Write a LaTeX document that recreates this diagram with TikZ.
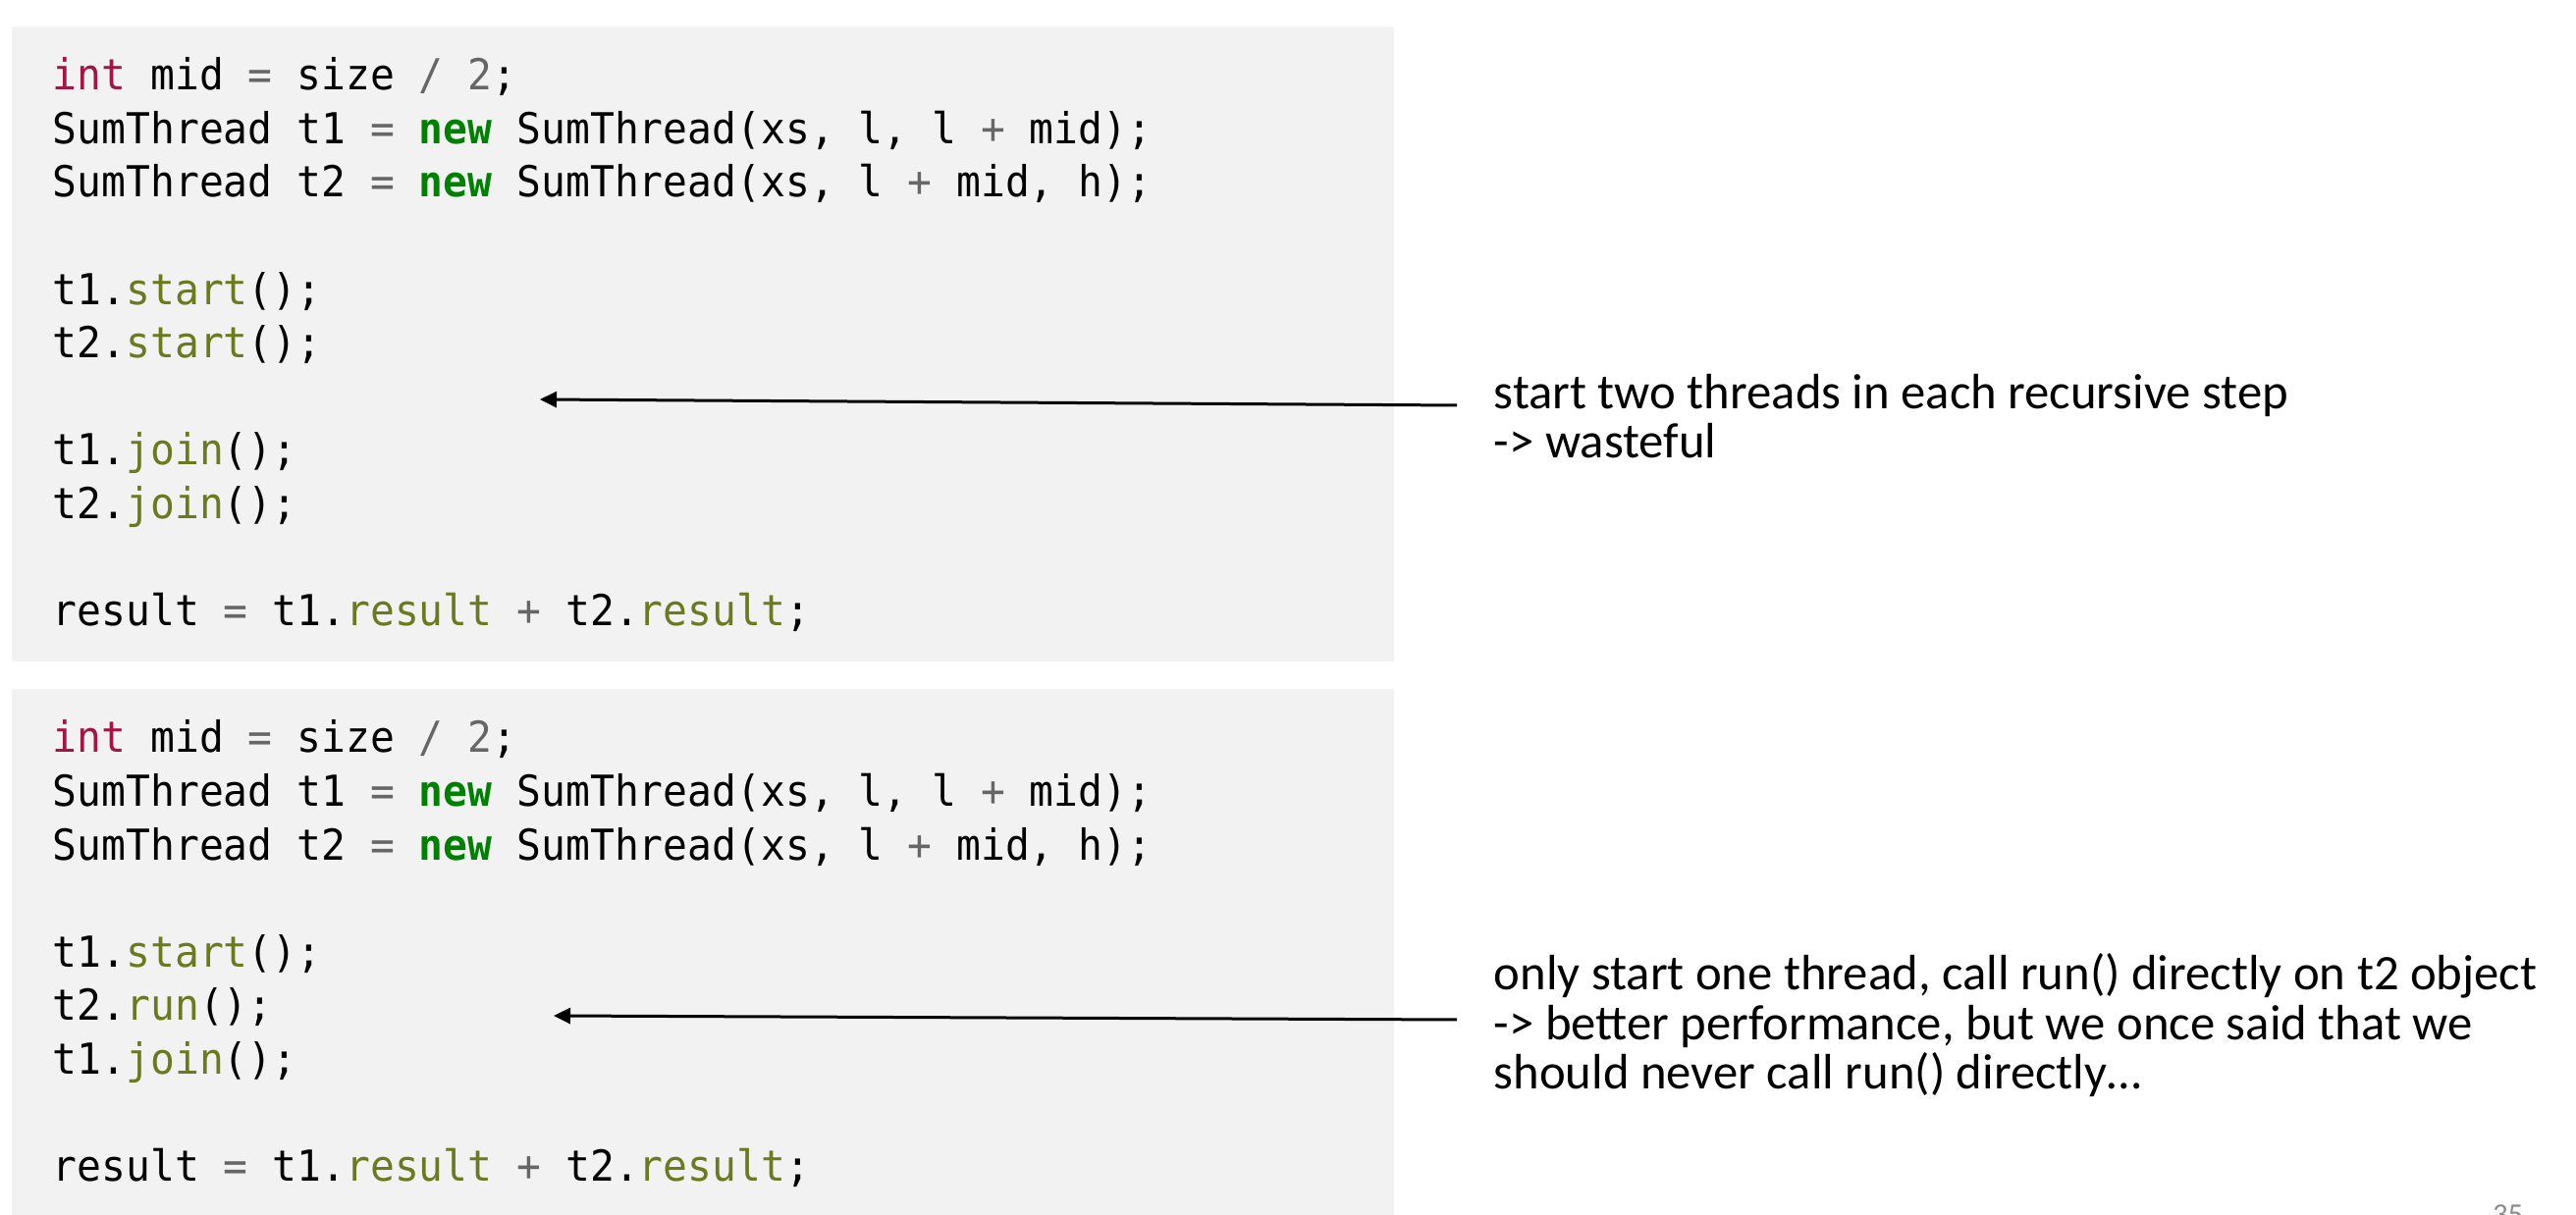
\documentclass[tikz,border=0pt]{standalone}
\usepackage{fontspec}
\setmainfont{Carlito}
\newfontfamily\codefont[FakeStretch=0.95]{DejaVu Sans Mono}
\usetikzlibrary{arrows.meta}
\definecolor{codebg}{HTML}{F2F2F2}
\definecolor{kwred}{HTML}{A31545}
\definecolor{kwgreen}{HTML}{008000}
\definecolor{opgray}{HTML}{666666}
\definecolor{fnolive}{HTML}{6B7A1F}
\definecolor{pagegray}{HTML}{8C8C8C}
\newcommand\ckw[1]{\textcolor{kwred}{#1}}
\newcommand\cnew[1]{\textcolor{kwgreen}{\bfseries #1}}
\newcommand\cop[1]{\textcolor{opgray}{#1}}
\newcommand\cfn[1]{\textcolor{fnolive}{#1}}
\tikzset{
  codeline/.style={anchor=base west, inner sep=0pt, font=\codefont\fontsize{10.875pt}{13.65pt}\selectfont},
  notetext/.style={anchor=base west, inner sep=0pt, align=left, font=\fontsize{12.675pt}{12.675pt}\selectfont},
  codebox/.style={fill=codebg, draw=none},
  notearrow/.style={-{Triangle[length=4.25pt,width=4pt]}, line width=0.75pt, black},
}
\begin{document}
\begin{tikzpicture}[x=0.25pt,y=-0.25pt]
\useasboundingbox (0,0) rectangle (2624,1238);
\clip (0,0) rectangle (2624,1238);
\fill[white] (0,0) rectangle (2624,1238);
% code boxes
\fill[codebox] (12,27) rectangle (1420,674);
\fill[codebox] (12,702) rectangle (1420,1238);
% first block
\node[codeline] (a1) at (53,91.7) {\ckw{int} mid \cop{=} size \cop{/} \cop{2};};
\node[codeline] (a2) at (53,146.3) {SumThread t1 \cop{=} \cnew{new} SumThread(xs, l, l \cop{+} mid);};
\node[codeline] (a3) at (53,200.9) {SumThread t2 \cop{=} \cnew{new} SumThread(xs, l \cop{+} mid, h);};
\node[codeline] (a4) at (53,310.1) {t1.\cfn{start}();};
\node[codeline] (a5) at (53,364.7) {t2.\cfn{start}();};
\node[codeline] (a6) at (53,473.9) {t1.\cfn{join}();};
\node[codeline] (a7) at (53,528.5) {t2.\cfn{join}();};
\node[codeline] (a8) at (53,637.7) {result \cop{=} t1.\cfn{result} \cop{+} t2.\cfn{result};};
% second block
\node[codeline] (b1) at (53,767) {\ckw{int} mid \cop{=} size \cop{/} \cop{2};};
\node[codeline] (b2) at (53,821.6) {SumThread t1 \cop{=} \cnew{new} SumThread(xs, l, l \cop{+} mid);};
\node[codeline] (b3) at (53,876.2) {SumThread t2 \cop{=} \cnew{new} SumThread(xs, l \cop{+} mid, h);};
\node[codeline] (b4) at (53,985.4) {t1.\cfn{start}();};
\node[codeline] (b5) at (53,1040) {t2.\cfn{run}();};
\node[codeline] (b6) at (53,1094.6) {t1.\cfn{join}();};
\node[codeline] (b7) at (53,1203.8) {result \cop{=} t1.\cfn{result} \cop{+} t2.\cfn{result};};
% notes (base anchor = baseline of last line)
\node[notetext] (n1) at (1521,467) {start two threads in each recursive step\\-> wasteful};
\node[notetext] (n2) at (1521,1110) {only start one thread, call run() directly on t2 object\\-> better performance, but we once said that we\\should never call run() directly…};
% arrows
\coordinate (s1) at (1484,413);
\coordinate (e1) at (550,407);
\coordinate (s2) at (1484,1039);
\coordinate (e2) at (564,1035);
\draw[notearrow] (s1) -- (e1);
\draw[notearrow] (s2) -- (e2);
% page number (cut off at the bottom edge, as in the reference)
\node[anchor=base east, inner sep=0pt, text=pagegray, font=\fontsize{7.65pt}{7.65pt}\selectfont] (pg) at (2571,1248) {35};
\end{tikzpicture}
\end{document}
